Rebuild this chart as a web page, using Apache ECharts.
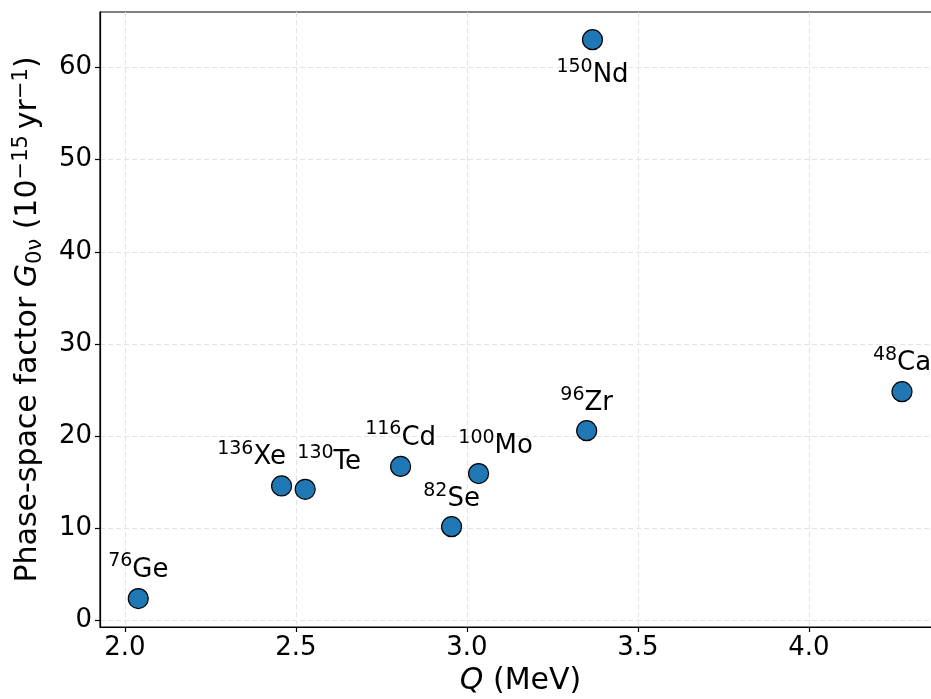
<!DOCTYPE html>
<html>
<head>
<meta charset="utf-8">
<script src="https://cdn.jsdelivr.net/npm/echarts@6/dist/echarts.min.js"></script>
<style>
  html, body { margin: 0; padding: 0; background: #fff; }
  #chart { width: 931px; height: 699px; }
</style>
</head>
<body>
<div id="chart"></div>
<script>
// Double-beta-decay isotopes: Q value vs. phase-space factor
const massNumbers = ['76', '136', '130', '116', '82', '100', '96', '150', '48'];
const elements    = ['Ge', 'Xe', 'Te', 'Cd', 'Se', 'Mo', 'Zr', 'Nd', 'Ca'];
const qValues     = [2.039, 2.458, 2.527, 2.806, 2.955, 3.034, 3.350, 3.367, 4.272];
const gValues     = [2.36, 14.58, 14.22, 16.70, 10.16, 15.92, 20.58, 63.03, 24.81];

const xTicks = [2.0, 2.5, 3.0, 3.5, 4.0];
const yTicks = [0, 10, 20, 30, 40, 50, 60];

// label placement relative to each marker (px)
const labelShift = [[0, -31], [-30, -31], [24, -30], [0, -31], [0, -30], [17, -30], [0, -30], [0, 33], [0, -31]];

const FONT = 'DejaVu Sans';

const points = qValues.map((q, i) => ({
  value: [q, gValues[i]],
  label: {
    show: true,
    position: 'inside',
    offset: labelShift[i],
    formatter: '{sup|' + massNumbers[i] + '}{main|' + elements[i] + '}'
  }
}));

const chart = echarts.init(document.getElementById('chart'), null, { renderer: 'canvas' });

chart.setOption({
  animation: false,
  backgroundColor: '#ffffff',
  textStyle: { fontFamily: FONT },
  // plot box runs a little past the right edge of the canvas
  grid: {
    left: 100, width: 841, top: 12, height: 615,
    outerBoundsMode: 'none',
    containLabel: false,
    show: true, borderColor: '#000', borderWidth: 1.2, backgroundColor: 'transparent'
  },
  xAxis: {
    type: 'value',
    min: 1.927, max: 4.386,
    name: '{it|Q} (MeV)',
    nameLocation: 'middle',
    nameGap: 39,
    nameTextStyle: {
      fontFamily: FONT, fontSize: 30, color: '#000',
      rich: {
        it: { fontFamily: FONT, fontSize: 30, fontStyle: 'italic', color: '#000' }
      }
    },
    axisLine: { show: true, onZero: false, lineStyle: { color: '#000', width: 1.2 } },
    axisTick: { show: true, inside: false, length: 5, customValues: xTicks, lineStyle: { color: '#000', width: 1.2 } },
    axisLabel: {
      customValues: xTicks, margin: 8, fontFamily: FONT, fontSize: 26, color: '#000',
      formatter: v => v.toFixed(1)
    },
    splitLine: { show: true, lineStyle: { color: '#e3e3e3', type: [5, 3], width: 1 } }
  },
  yAxis: {
    type: 'value',
    min: -0.73, max: 66.03,
    name: 'Phase-space factor {it|G}{sub|0ν} (10{sup|−15}\u2009yr{sup|−1})',
    nameLocation: 'middle',
    nameRotate: 90,
    nameGap: 54,
    nameTextStyle: {
      fontFamily: FONT, fontSize: 30, color: '#000',
      rich: {
        it: { fontFamily: FONT, fontSize: 30, fontStyle: 'italic', color: '#000', lineHeight: 35 },
        sub: { fontFamily: FONT, fontSize: 21, color: '#000', verticalAlign: 'bottom', lineHeight: 35 },
        sup: { fontFamily: FONT, fontSize: 21, color: '#000', verticalAlign: 'top', lineHeight: 35 }
      }
    },
    axisLine: { show: true, onZero: false, lineStyle: { color: '#000', width: 1.2 } },
    axisTick: { show: true, inside: false, length: 5, customValues: yTicks, lineStyle: { color: '#000', width: 1.2 } },
    axisLabel: { customValues: yTicks, margin: 8, fontFamily: FONT, fontSize: 26, color: '#000' },
    splitLine: { show: true, lineStyle: { color: '#e3e3e3', type: [5, 3], width: 1 } }
  },
  series: [{
    type: 'scatter',
    data: points,
    symbol: 'circle',
    symbolSize: 20,
    itemStyle: { color: '#1f77b4', borderColor: '#000', borderWidth: 1.2, opacity: 1 },
    label: {
      color: '#000',
      rich: {
        main: { fontFamily: FONT, fontSize: 26, color: '#000', lineHeight: 31, verticalAlign: 'bottom' },
        sup: { fontFamily: FONT, fontSize: 19, color: '#000', lineHeight: 31, verticalAlign: 'top' }
      }
    },
    emphasis: { disabled: true },
    z: 3
  }]
});
</script>
</body>
</html>
